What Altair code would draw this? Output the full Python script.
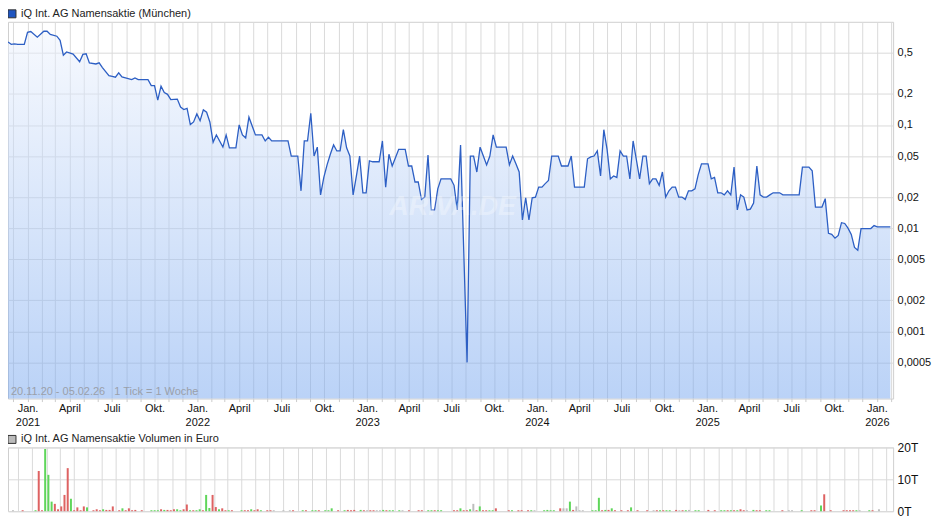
import altair as alt
import pandas as pd

# ---------------- data ----------------
START = pd.Timestamp("2020-11-20")
TITLE_PRICE = "iQ Int. AG Namensaktie (München)"
TITLE_VOL = "iQ Int. AG Namensaktie Volumen in Euro"
RANGE_NOTE = "20.11.20 - 05.02.26\u00a0\u00a0\u00a01 Tick = 1 Woche"

price_weeks = [0, 1, 2, 3, 5, 6, 7, 9, 11, 12, 13, 15, 16, 17, 18, 20, 22, 23, 24, 25,
               27, 28, 29, 31, 32, 33, 34, 35, 38, 39, 40, 43, 44, 45, 46, 47, 48, 49, 50, 52,
               53, 54, 55, 56, 57, 58, 59, 60, 61, 62, 63, 64, 66, 67, 68, 70, 71, 72, 73, 74,
               76, 78, 79, 80, 81, 86, 87, 89, 90, 91, 92, 93, 94, 95, 96, 97, 98, 99, 100, 101,
               102, 103, 104, 105, 106, 107, 108, 109, 110, 111, 112, 114, 115, 116, 117, 118, 119, 120, 122, 123,
               124, 125, 126, 127, 128, 129, 130, 131, 132, 133, 136, 137, 138, 139, 140, 141, 142, 143, 144, 145,
               146, 147, 148, 149, 150, 153, 154, 155, 156, 157, 158, 159, 160, 161, 162, 163, 164, 165, 166, 167,
               169, 170, 172, 173, 174, 177, 178, 179, 180, 181, 182, 183, 184, 185, 186, 187, 188, 189, 190, 191,
               192, 193, 194, 195, 196, 197, 198, 199, 200, 201, 202, 203, 204, 205, 206, 207, 208, 209, 210, 211,
               212, 213, 215, 216, 217, 218, 219, 220, 221, 222, 223, 224, 225, 226, 227, 228, 229, 230, 231, 232,
               233, 234, 235, 237, 238, 243, 244, 246, 247, 248, 250, 251, 252, 253, 254, 255, 256, 257, 258, 259,
               260, 261, 262, 265, 266, 267, 271]

price_values = [0.636, 0.605, 0.61, 0.605, 0.605, 0.79, 0.804, 0.71, 0.81, 0.81, 0.755, 0.725, 0.66, 0.475, 0.51, 0.486, 0.41, 0.483, 0.49, 0.40,
                0.39, 0.40, 0.36, 0.30, 0.295, 0.29, 0.32, 0.292, 0.275, 0.286, 0.275, 0.275, 0.241, 0.241, 0.174, 0.238, 0.206, 0.198, 0.176, 0.178,
                0.149, 0.141, 0.145, 0.101, 0.107, 0.128, 0.11, 0.14, 0.133, 0.107, 0.068, 0.080, 0.061, 0.080, 0.060, 0.060, 0.10, 0.080, 0.075, 0.119,
                0.080, 0.080, 0.070, 0.076, 0.070, 0.070, 0.050, 0.050, 0.023, 0.070, 0.070, 0.130, 0.050, 0.061, 0.021, 0.031, 0.041, 0.052, 0.064, 0.056,
                0.056, 0.090, 0.060, 0.050, 0.021, 0.032, 0.050, 0.022, 0.022, 0.045, 0.044, 0.044, 0.070, 0.025, 0.052, 0.040, 0.048, 0.058, 0.058, 0.040,
                0.040, 0.028, 0.028, 0.019, 0.020, 0.051, 0.015, 0.015, 0.024, 0.030, 0.030, 0.026, 0.015, 0.064, 0.0057, 0.0005, 0.050, 0.050, 0.035, 0.061,
                0.050, 0.041, 0.050, 0.080, 0.061, 0.061, 0.041, 0.050, 0.042, 0.035, 0.012, 0.0197, 0.012, 0.0197, 0.020, 0.025, 0.025, 0.027, 0.029, 0.050,
                0.050, 0.040, 0.040, 0.050, 0.025, 0.025, 0.047, 0.049, 0.050, 0.056, 0.032, 0.090, 0.058, 0.030, 0.032, 0.031, 0.056, 0.050, 0.050, 0.030,
                0.070, 0.046, 0.030, 0.050, 0.050, 0.027, 0.030, 0.030, 0.026, 0.035, 0.020, 0.023, 0.025, 0.025, 0.020, 0.020, 0.019, 0.023, 0.023, 0.024,
                0.033, 0.042, 0.042, 0.030, 0.031, 0.022, 0.022, 0.021, 0.023, 0.021, 0.039, 0.015, 0.021, 0.020, 0.015, 0.0153, 0.0175, 0.040, 0.021, 0.020,
                0.020, 0.021, 0.022, 0.022, 0.021, 0.021, 0.039, 0.039, 0.036, 0.016, 0.016, 0.0193, 0.0089, 0.0087, 0.0080, 0.0085, 0.0113, 0.0111, 0.0100, 0.0087,
                0.0065, 0.0061, 0.0099, 0.0099, 0.0106, 0.0103, 0.0103]

vol_weeks = [0, 3, 7, 8, 9, 10, 11, 12, 13, 14, 15, 16, 17, 18, 19, 20, 21, 22, 23, 25,
             26, 27, 28, 29, 30, 31, 33, 34, 35, 36, 37, 38, 40, 43, 44, 45, 46, 47, 48, 49,
             50, 51, 52, 53, 54, 55, 56, 57, 58, 59, 60, 61, 62, 63, 64, 65, 66, 67, 68, 71,
             72, 73, 74, 75, 76, 77, 79, 80, 81, 84, 86, 87, 90, 91, 93, 94, 95, 97, 98, 99,
             101, 103, 104, 105, 106, 108, 109, 110, 111, 112, 113, 114, 115, 116, 117, 118, 120, 121, 123, 126,
             127, 129, 130, 131, 132, 133, 137, 138, 139, 140, 141, 142, 143, 144, 145, 146, 147, 148, 149, 150,
             154, 155, 157, 158, 160, 161, 162, 165, 166, 167, 168, 170, 171, 172, 173, 174, 175, 176, 177, 180,
             181, 182, 183, 184, 185, 186, 187, 189, 191, 192, 194, 197, 199, 200, 201, 202, 203, 204, 206, 207,
             208, 209, 210, 212, 213, 216, 218, 220, 221, 222, 223, 224, 225, 226, 227, 228, 230, 231, 232, 234,
             235, 239, 241, 242, 245, 248, 249, 251, 252, 254, 258, 259, 260, 261, 262, 263, 266, 267, 269]

# thousands of euro
vol_thousands = [0.3, 0.3, 0.3, 12.6, 0.3, 19.5, 11.4, 3.0, 2.3, 0.6, 1.5, 5.1, 13.5, 3.9, 0.3, 1.2, 0.3, 1.5, 1.2, 0.3,
                 0.6, 0.3, 0.6, 0.4, 0.4, 1.5, 0.3, 0.9, 0.3, 0.9, 0.3, 0.4, 0.3, 0.3, 0.3, 0.3, 0.6, 0.4, 0.4, 0.3,
                 0.6, 0.6, 0.3, 0.6, 2.1, 0.3, 0.3, 0.3, 0.6, 0.3, 5.1, 1.0, 5.1, 1.3, 0.6, 0.9, 0.3, 0.3, 0.3, 0.3,
                 0.3, 0.3, 0.6, 0.3, 0.6, 0.3, 0.3, 0.3, 0.3, 0.3, 0.3, 0.3, 0.3, 0.3, 0.3, 0.3, 0.3, 0.3, 0.3, 0.9,
                 0.3, 0.3, 0.4, 0.3, 0.4, 0.4, 0.3, 0.3, 0.3, 0.3, 0.3, 0.3, 0.4, 0.3, 0.3, 0.3, 0.3, 0.3, 0.3, 0.3,
                 0.3, 0.3, 0.3, 0.3, 0.3, 0.3, 0.3, 0.3, 0.9, 0.3, 0.3, 0.6, 2.3, 0.3, 1.5, 0.3, 0.3, 0.3, 0.3, 0.9,
                 0.3, 0.3, 0.3, 0.3, 0.3, 0.3, 0.3, 0.3, 0.4, 0.3, 0.3, 0.9, 0.9, 0.9, 3.0, 0.4, 1.5, 0.3, 0.3, 0.3,
                 0.3, 4.2, 0.3, 0.4, 0.4, 0.9, 0.3, 0.3, 0.3, 1.2, 0.3, 0.3, 0.3, 0.3, 0.3, 0.3, 0.3, 0.3, 0.4, 0.3,
                 0.3, 0.3, 0.4, 0.3, 0.3, 0.4, 0.3, 0.3, 0.3, 0.3, 0.3, 0.3, 0.3, 0.6, 0.3, 0.3, 0.4, 0.3, 0.3, 0.3,
                 0.3, 0.3, 0.3, 0.3, 0.3, 0.3, 0.3, 1.8, 5.3, 0.3, 0.3, 0.3, 0.3, 0.3, 0.3, 0.3, 0.3, 0.3, 0.6]

vol_dir = ["flat", "down", "up", "down", "down", "up", "up", "up", "down", "down", "down", "down", "down", "up", "down", "down", "down", "down", "up", "down",
           "down", "down", "up", "down", "down", "down", "down", "up", "down", "down", "down", "down", "down", "up", "up", "up", "down", "up", "down", "down",
           "down", "up", "up", "down", "down", "up", "down", "up", "up", "down", "up", "up", "down", "down", "up", "down", "down", "up", "down", "up",
           "down", "down", "up", "down", "down", "up", "down", "down", "flat", "flat", "flat", "down", "up", "down", "up", "up", "down", "up", "up", "up",
           "down", "up", "down", "down", "down", "up", "down", "flat", "down", "down", "flat", "flat", "up", "down", "up", "up", "up", "flat", "down", "down",
           "down", "up", "up", "down", "up", "up", "down", "down", "up", "down", "down", "up", "flat", "down", "up", "down", "down", "up", "up", "down",
           "down", "up", "down", "down", "down", "up", "flat", "up", "up", "up", "up", "down", "flat", "flat", "up", "down", "flat", "flat", "flat", "up",
           "up", "up", "down", "up", "down", "up", "down", "down", "down", "up", "down", "down", "flat", "down", "up", "down", "up", "up", "down", "flat",
           "down", "up", "flat", "up", "up", "down", "down", "up", "up", "down", "up", "down", "up", "down", "down", "flat", "up", "down", "down", "up",
           "up", "down", "flat", "flat", "up", "down", "down", "up", "down", "down", "down", "down", "down", "down", "up", "flat", "up", "down", "flat"]

y_ticks = [0.5, 0.2, 0.1, 0.05, 0.02, 0.01, 0.005, 0.002, 0.001, 0.0005]
vol_ticks = [0, 10000, 20000]

def week_date(w):
    return (START + pd.Timedelta(days=7 * w)).strftime("%Y-%m-%d")

price_df = pd.DataFrame({"date": [week_date(w) for w in price_weeks], "price": price_values})
vol_df = pd.DataFrame({"date": [week_date(w) for w in vol_weeks],
                       "vol": [v * 1000 for v in vol_thousands], "dir": vol_dir})

month_ticks = [alt.DateTime(year=2020, month=12, date=1, utc=True)]
for yy in range(2021, 2026):
    for mm in range(1, 13):
        month_ticks.append(alt.DateTime(year=yy, month=mm, date=1, utc=True))
month_ticks += [alt.DateTime(year=2026, month=1, date=1, utc=True),
                alt.DateTime(year=2026, month=2, date=1, utc=True)]

# ---------------- layout ----------------
W = 888
H = 378
VH = 64
GRID = "#dadada"
FONT = "Liberation Sans"

x_scale = alt.Scale(type="utc",
                    domain=[alt.DateTime(year=2020, month=11, date=20, utc=True),
                            alt.DateTime(year=2026, month=2, date=5, utc=True)])
y_scale = alt.Scale(type="log", domain=[0.000223, 1.0])

label_expr = ("utcmonth(datum.value)==0 ? ['Jan.', '' + utcyear(datum.value)] : "
              "utcmonth(datum.value)==3 ? 'April' : utcmonth(datum.value)==6 ? 'Juli' : "
              "utcmonth(datum.value)==9 ? 'Okt.' : ''")

x_axis = alt.Axis(values=month_ticks, labelExpr=label_expr, grid=True, gridColor=GRID,
                  ticks=True, tickSize=3, tickColor="#cccccc", domain=False,
                  labelOverlap=False, labelFlush=False, labelPadding=1,
                  labelFontSize=11, labelColor="#111111", labelLineHeight=14,
                  labelFont=FONT, title=None)
y_axis = alt.Axis(orient="right", values=y_ticks,
                  labelExpr="replace(toString(datum.value), '.', ',')",
                  grid=True, gridColor=GRID, ticks=False, domain=False,
                  labelPadding=4, labelFontSize=11, labelColor="#111111",
                  labelFont=FONT, title=None)

X = alt.X("date:T", scale=x_scale, axis=x_axis)
Y = alt.Y("price:Q", scale=y_scale, axis=y_axis)

area = alt.Chart(price_df).mark_area(
    color=alt.Gradient(gradient="linear",
                       stops=[alt.GradientStop(color="#eef3fd", offset=0),
                              alt.GradientStop(color="#76a6ef", offset=1)],
                       x1=0, x2=0, y1=0, y2=1),
    opacity=0.5,
).encode(x=X, y=Y, y2=alt.datum(0.000223))

line = alt.Chart(price_df).mark_line(color="#2d5fc4", strokeWidth=1.3).encode(x=X, y=Y)

one = pd.DataFrame({"t": [TITLE_PRICE], "n": [RANGE_NOTE], "w": ["ARIVA.DE"]})

leg_sq = alt.Chart(one).mark_square(size=64, fill="#1f55c0", stroke="#333333",
                                    strokeWidth=1, opacity=1).encode(
    x=alt.value(4), y=alt.value(-8))
leg_tx = alt.Chart(one).mark_text(align="left", baseline="middle", fontSize=11,
                                  font=FONT, color="#222222").encode(
    x=alt.value(13), y=alt.value(-8), text="t:N")
note = alt.Chart(one).mark_text(align="left", baseline="middle", fontSize=11,
                                font=FONT, color="#9aa0aa").encode(
    x=alt.value(3), y=alt.value(H - 7), text="n:N")
wm = alt.Chart(one).mark_text(align="center", baseline="middle", fontSize=27,
                              font=FONT, fontStyle="italic", fontWeight="bold",
                              color="#ffffff", opacity=0.3).encode(
    x=alt.value(446), y=alt.value(186), text="w:N")

top = alt.layer(area, line, wm, note, leg_sq, leg_tx).properties(width=W, height=H)

# ---------------- volume ----------------
vx_axis = alt.Axis(values=month_ticks, labels=False, ticks=False, grid=True,
                   gridColor=GRID, domain=False, title=None)
vy_axis = alt.Axis(orient="right", values=vol_ticks,
                   labelExpr="(datum.value/1000) + 'T'", grid=True, gridColor=GRID,
                   ticks=False, domain=False, labelPadding=4, labelFontSize=12,
                   labelColor="#111111", labelFont=FONT, title=None)

bars = alt.Chart(vol_df).mark_bar(size=2).encode(
    x=alt.X("date:T", scale=x_scale, axis=vx_axis),
    y=alt.Y("vol:Q", scale=alt.Scale(domain=[0, 20000]), axis=vy_axis),
    color=alt.Color("dir:N", scale=alt.Scale(domain=["up", "down", "flat"],
                                             range=["#5fd65a", "#de6262", "#bdbdbd"]),
                    legend=None),
)

one_v = pd.DataFrame({"t": [TITLE_VOL]})
vleg_sq = alt.Chart(one_v).mark_square(size=64, fill="#bbbbbb", stroke="#333333",
                                       strokeWidth=1, opacity=1).encode(
    x=alt.value(4), y=alt.value(-8))
vleg_tx = alt.Chart(one_v).mark_text(align="left", baseline="middle", fontSize=11,
                                     font=FONT, color="#222222").encode(
    x=alt.value(13), y=alt.value(-8), text="t:N")

vol = alt.layer(bars, vleg_sq, vleg_tx).properties(width=W, height=VH)

chart = alt.vconcat(top, vol, spacing=4).properties(
    padding={"left": -4, "top": -2, "right": 0, "bottom": 0}
).configure(font=FONT).configure_view(stroke="#cfcfcf", strokeWidth=1)

chart.save("out.html", embed_options={"renderer": "svg", "actions": False})
